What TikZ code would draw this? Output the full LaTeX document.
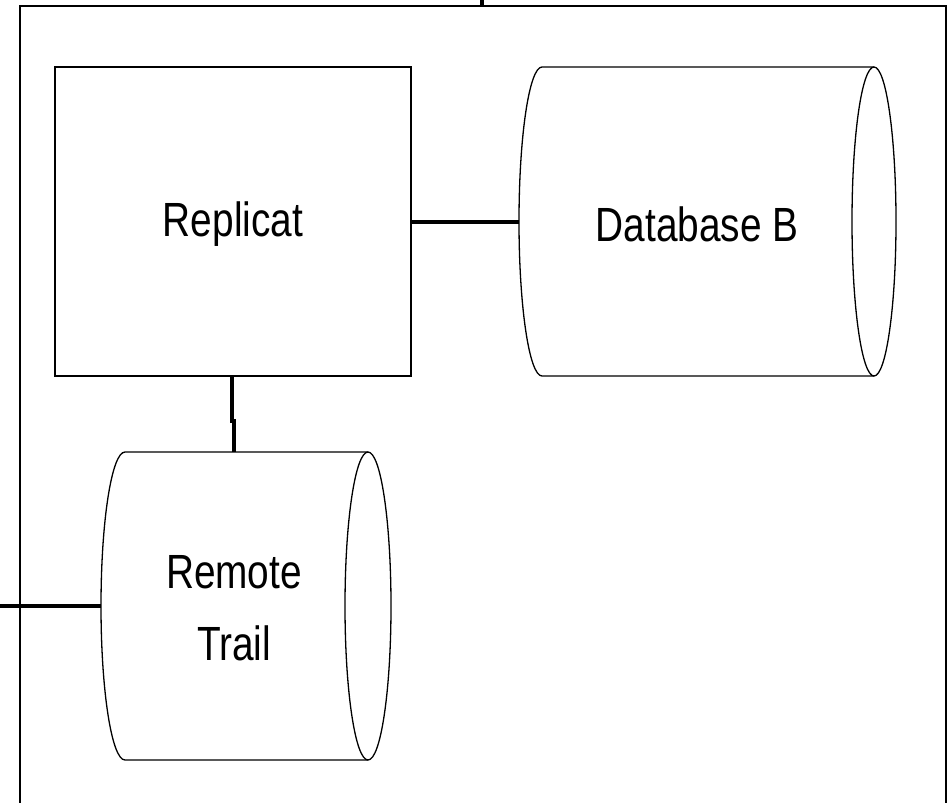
\documentclass[tikz,border=0pt]{standalone}
\usepackage{fontspec}
\setmainfont{Liberation Sans}
\newcommand{\tallt}[1]{\scalebox{0.97}[1.2]{#1}}
\begin{document}
\begin{tikzpicture}[x=1pt,y=-1pt,
  shapeline/.style={draw=black,line width=1.3pt},
  frameline/.style={draw=black,line width=2pt},
  conn/.style={draw=black,line width=4pt},
  lbl/.style={font=\fontsize{40}{60}\selectfont,align=center,inner sep=0pt}]
\useasboundingbox (0,0) rectangle (948,803);
% outer frame
\draw[frameline] (20,812) -- (20,6) -- (946,6) -- (946,812);
% Replicat
\node[shapeline,rectangle,minimum width=356pt,minimum height=309pt,inner sep=0pt] (rep) at (233,221.5) {};
\node[lbl] (reptext) at (233,224) {\tallt{Replicat}};
% Database B cylinder
\draw[shapeline] (874,67) -- (542,67) arc[start angle=270,end angle=90,x radius=23,y radius=154.5] -- (874,376);
\draw[shapeline] (874,221.5) ellipse[x radius=22,y radius=154.5];
\coordinate (dbW) at (519,221.5);
\node[lbl] (db) at (697,224) {\tallt{Database B}};
% Remote Trail cylinder
\draw[shapeline] (368,452) -- (125,452) arc[start angle=270,end angle=90,x radius=24,y radius=154] -- (368,760);
\draw[shapeline] (368,606) ellipse[x radius=23,y radius=154];
\coordinate (rtW) at (101,606);
\coordinate (rtN) at (234,452);
\node[lbl] (rt) at (234,608) {\tallt{Remote}\\[12pt]\tallt{Trail}};
% connectors
\coordinate (topin) at (482,0);
\coordinate (topframe) at (482,7);
\coordinate (leftin) at (0,606);
\draw[conn] (rep.east) -- (dbW);
\draw[conn] (rep.south) ++(-1,0) -- ++(0,44) -- ++(2,0) -- (rtN);
\draw[conn] (leftin) -- (rtW);
\draw[conn] (topin) -- (topframe);
\end{tikzpicture}
\end{document}
